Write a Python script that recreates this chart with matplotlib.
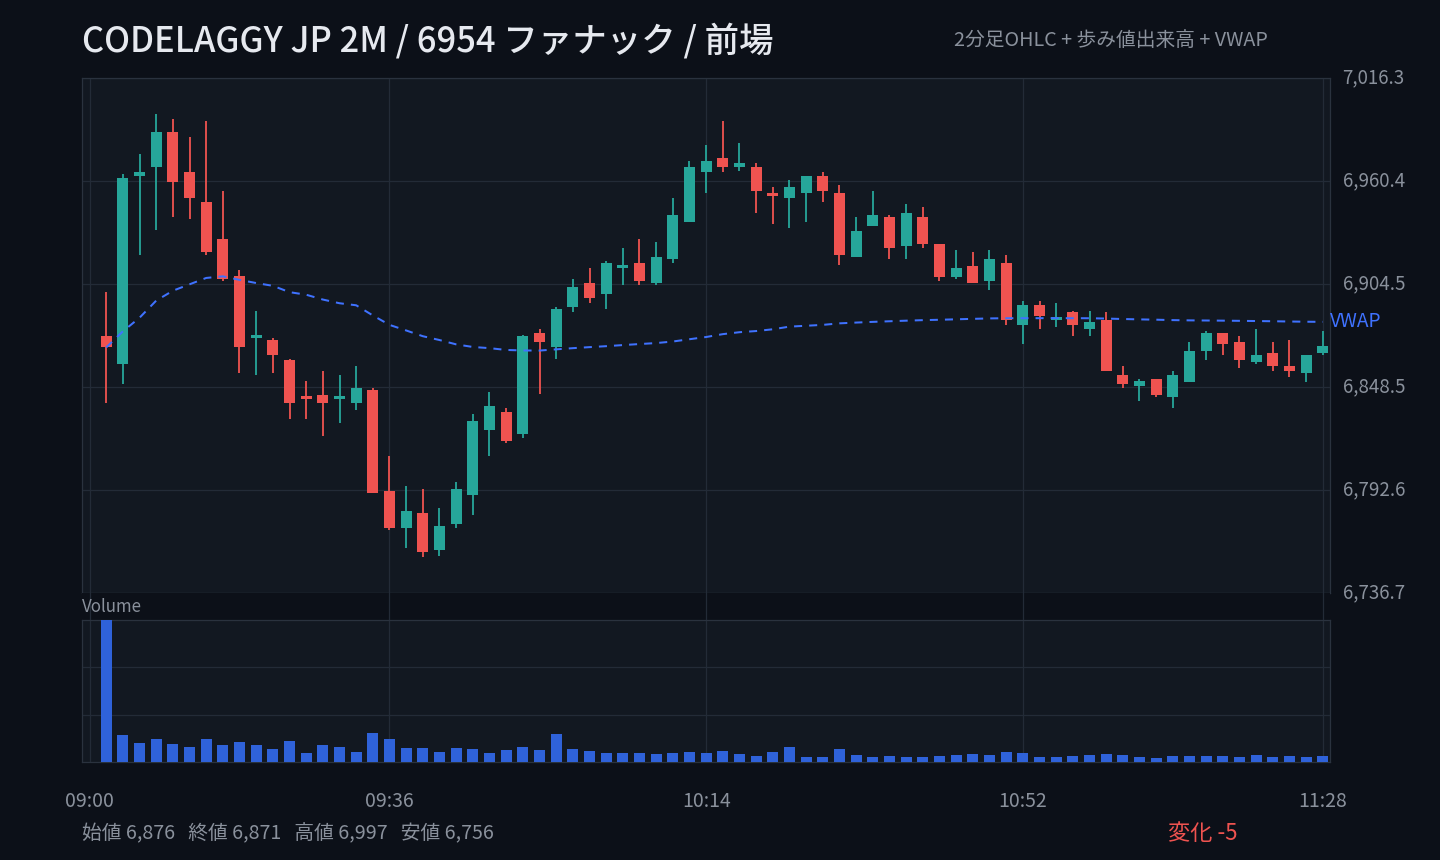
import numpy as np
import matplotlib
matplotlib.use('Agg')
import matplotlib.pyplot as plt

plt.rcParams['font.family'] = ['Noto Sans CJK JP', 'DejaVu Sans']

# ---------------- data ----------------
start_minute = 2          # first candle 09:02, 2-minute bars
bar_minutes = 2
opens = [6876, 6861, 6963, 6968, 6987, 6965, 6949, 6929, 6909, 6875,
         6874, 6863, 6843, 6844, 6842, 6840, 6847, 6792, 6772, 6780,
         6760, 6774, 6790, 6825, 6835, 6823, 6878, 6870, 6892, 6905,
         6899, 6913, 6916, 6905, 6918, 6938, 6965, 6973, 6968, 6968,
         6954, 6951, 6954, 6963, 6954, 6919, 6936, 6941, 6925, 6941,
         6926, 6908, 6914, 6906, 6916, 6882, 6893, 6885, 6889, 6880,
         6885, 6855, 6849, 6853, 6843, 6851, 6868, 6878, 6873, 6862,
         6867, 6860, 6856, 6867]
highs = [6900, 6964, 6975, 6997, 6994, 6984, 6993, 6955, 6912, 6890,
         6875, 6864, 6852, 6857, 6855, 6860, 6848, 6811, 6795, 6793,
         6783, 6797, 6834, 6846, 6837, 6877, 6880, 6892, 6907, 6913,
         6917, 6924, 6929, 6927, 6951, 6971, 6980, 6993, 6981, 6970,
         6957, 6961, 6963, 6965, 6958, 6941, 6955, 6942, 6948, 6946,
         6926, 6923, 6922, 6923, 6920, 6895, 6895, 6894, 6890, 6890,
         6889, 6860, 6853, 6853, 6857, 6873, 6879, 6878, 6876, 6880,
         6873, 6874, 6866, 6879]
lows = [6840, 6850, 6920, 6934, 6941, 6940, 6920, 6906, 6856, 6855,
        6856, 6831, 6831, 6822, 6829, 6836, 6791, 6771, 6761, 6756,
        6757, 6772, 6779, 6811, 6818, 6821, 6845, 6864, 6889, 6894,
        6891, 6904, 6904, 6904, 6916, 6938, 6954, 6965, 6966, 6943,
        6937, 6935, 6938, 6949, 6915, 6919, 6936, 6918, 6918, 6924,
        6906, 6907, 6905, 6901, 6882, 6872, 6880, 6881, 6876, 6876,
        6857, 6848, 6841, 6843, 6837, 6851, 6863, 6866, 6859, 6861,
        6857, 6854, 6851, 6866]
closes = [6870, 6962, 6965, 6987, 6960, 6951, 6922, 6907, 6870, 6876,
          6866, 6840, 6842, 6840, 6843, 6848, 6791, 6772, 6781, 6759,
          6773, 6793, 6830, 6838, 6819, 6876, 6873, 6891, 6903, 6897,
          6916, 6914, 6906, 6919, 6942, 6968, 6971, 6968, 6970, 6955,
          6952, 6957, 6963, 6955, 6920, 6933, 6942, 6924, 6943, 6926,
          6908, 6913, 6905, 6918, 6885, 6893, 6887, 6886, 6882, 6884,
          6857, 6850, 6852, 6844, 6855, 6868, 6878, 6872, 6863, 6866,
          6860, 6857, 6866, 6871]
volumes = [140000, 26200, 18300, 22200, 17300, 14400, 22200, 16400, 19300, 16400,
           12500, 20300, 8500, 16400, 14400, 9500, 28100, 22200, 13400, 13400,
           9500, 13400, 12500, 8500, 11500, 14400, 11500, 27200, 12500, 10500,
           8500, 8500, 8500, 7500, 8500, 9500, 8500, 10500, 7500, 5600,
           9500, 14400, 4600, 4600, 12500, 6500, 4600, 5600, 4600, 4600,
           5600, 6500, 7500, 6500, 9500, 8500, 4600, 4600, 5600, 6500,
           7500, 6500, 4600, 3600, 5600, 5600, 5600, 5600, 4600, 6500,
           4600, 5600, 4600, 5600]
tick_minutes = [0, 36, 74, 112, 148]
tick_labels = ['09:00', '09:36', '10:14', '10:52', '11:28']

title = 'CODELAGGY JP 2M / 6954 ファナック / 前場'
subtitle = '2分足OHLC + 歩み値出来高 + VWAP'
stats = '始値 6,876   終値 6,871   高値 6,997   安値 6,756'
change_text = '変化 -5'

# ---------------- style ----------------
BG = '#0c1018'
PANEL = '#121821'
GRID = '#232b37'
SPINE = '#2a323e'
UP = '#26a69a'
DOWN = '#ef5350'
VOL = '#2f62d9'
VWAPC = '#3f72ff'
TXT = '#e6e9ef'
MUTED = '#8a919c'

W, H = 1440, 860
fig = plt.figure(figsize=(W / 100, H / 100), dpi=100, facecolor=BG)

def fx(px):
    return px / W

def fy(py):
    return 1 - py / H

L, R = 82, 1330
ax_p = fig.add_axes([fx(L), fy(593), fx(R - L), (593 - 78) / H], facecolor=PANEL)
ax_s = fig.add_axes([fx(L), fy(620), fx(R - L), (620 - 593) / H], facecolor=BG)
ax_v = fig.add_axes([fx(L), fy(762), fx(R - L), (762 - 620) / H], facecolor=PANEL)

o = np.array(opens, float)
h = np.array(highs, float)
lo = np.array(lows, float)
c = np.array(closes, float)
v = np.array(volumes, float)
n = len(o)
x = start_minute + bar_minutes * np.arange(n)
colors = [UP if cc >= oo else DOWN for oo, cc in zip(o, c)]

xlim = (-0.9, 148.86)

# price panel
ax_p.vlines(x, lo, h, colors=colors, linewidth=1.3, zorder=3)
body_bottom = np.minimum(o, c)
body_h = np.maximum(np.abs(c - o), 1.5)
ax_p.bar(x, body_h, bottom=body_bottom, width=1.35, color=colors, linewidth=0, zorder=4)

tp = (h + lo + c) / 3
vwap = np.cumsum(tp * v) / np.cumsum(v)
ax_p.plot(x, vwap, color=VWAPC, linewidth=1.45, dashes=(4, 3.5), zorder=5)

pmin, pmax = lo.min(), h.max()
pad = (pmax - pmin) * 0.08
ymin, ymax = pmin - pad, pmax + pad
ax_p.set_ylim(ymin, ymax)
ax_p.set_xlim(*xlim)
yt = np.linspace(ymin, ymax, 6)
ax_p.set_yticks(yt)
ax_p.set_yticklabels([f'{t:,.1f}' for t in yt])
ax_p.yaxis.tick_right()
ax_p.tick_params(axis='y', length=0, pad=9, labelsize=13.5, labelcolor=MUTED)
for lab in ax_p.get_yticklabels():
    lab.set_va('center')
ax_p.set_xticks(tick_minutes)
ax_p.tick_params(axis='x', length=0, labelbottom=False)
ax_p.grid(True, color=GRID, linewidth=0.9)
ax_p.set_axisbelow(True)
for s in ax_p.spines.values():
    s.set_color(SPINE)
    s.set_linewidth(0.9)

ax_p.text(1.0, vwap[-1], 'VWAP', transform=ax_p.get_yaxis_transform(),
          color=VWAPC, fontsize=13.8, va='center', ha='left')

# strip
ax_s.set_xlim(*xlim)
ax_s.set_ylim(0, 1)
ax_s.set_xticks(tick_minutes)
ax_s.set_yticks([])
ax_s.tick_params(axis='x', length=0, labelbottom=False)
ax_s.grid(True, axis='x', color=GRID, linewidth=0.9)
for s in ax_s.spines.values():
    s.set_visible(False)
ax_s.text(0, 0.5, 'Volume', transform=ax_s.transAxes, color=MUTED,
          fontsize=12.2, va='center', ha='left')

# volume panel
ax_v.bar(x, v, width=1.35, color=VOL, linewidth=0, zorder=3)
ax_v.set_xlim(*xlim)
ax_v.set_ylim(0, v.max())
ax_v.set_yticks([v.max() / 3, 2 * v.max() / 3])
ax_v.tick_params(axis='y', length=0, labelleft=False, labelright=False)
ax_v.set_xticks(tick_minutes)
ax_v.set_xticklabels(tick_labels)
ax_v.tick_params(axis='x', length=0, pad=21, labelsize=14, labelcolor=MUTED)
ax_v.grid(True, color=GRID, linewidth=0.9)
ax_v.set_axisbelow(True)
for s in ax_v.spines.values():
    s.set_color(SPINE)
    s.set_linewidth(0.9)

# texts
fig.text(fx(82), fy(42), title, color=TXT, fontsize=24.8, va='center', ha='left',
         fontweight='medium')
fig.text(fx(1268), fy(41), subtitle, color=MUTED, fontsize=14.2, va='center', ha='right')
fig.text(fx(82), fy(834), stats, color=MUTED, fontsize=14.2, va='center', ha='left')
fig.text(fx(1238), fy(834), change_text, color=DOWN, fontsize=16, va='center', ha='right')

fig.savefig('out.png', dpi=100, facecolor=BG)
